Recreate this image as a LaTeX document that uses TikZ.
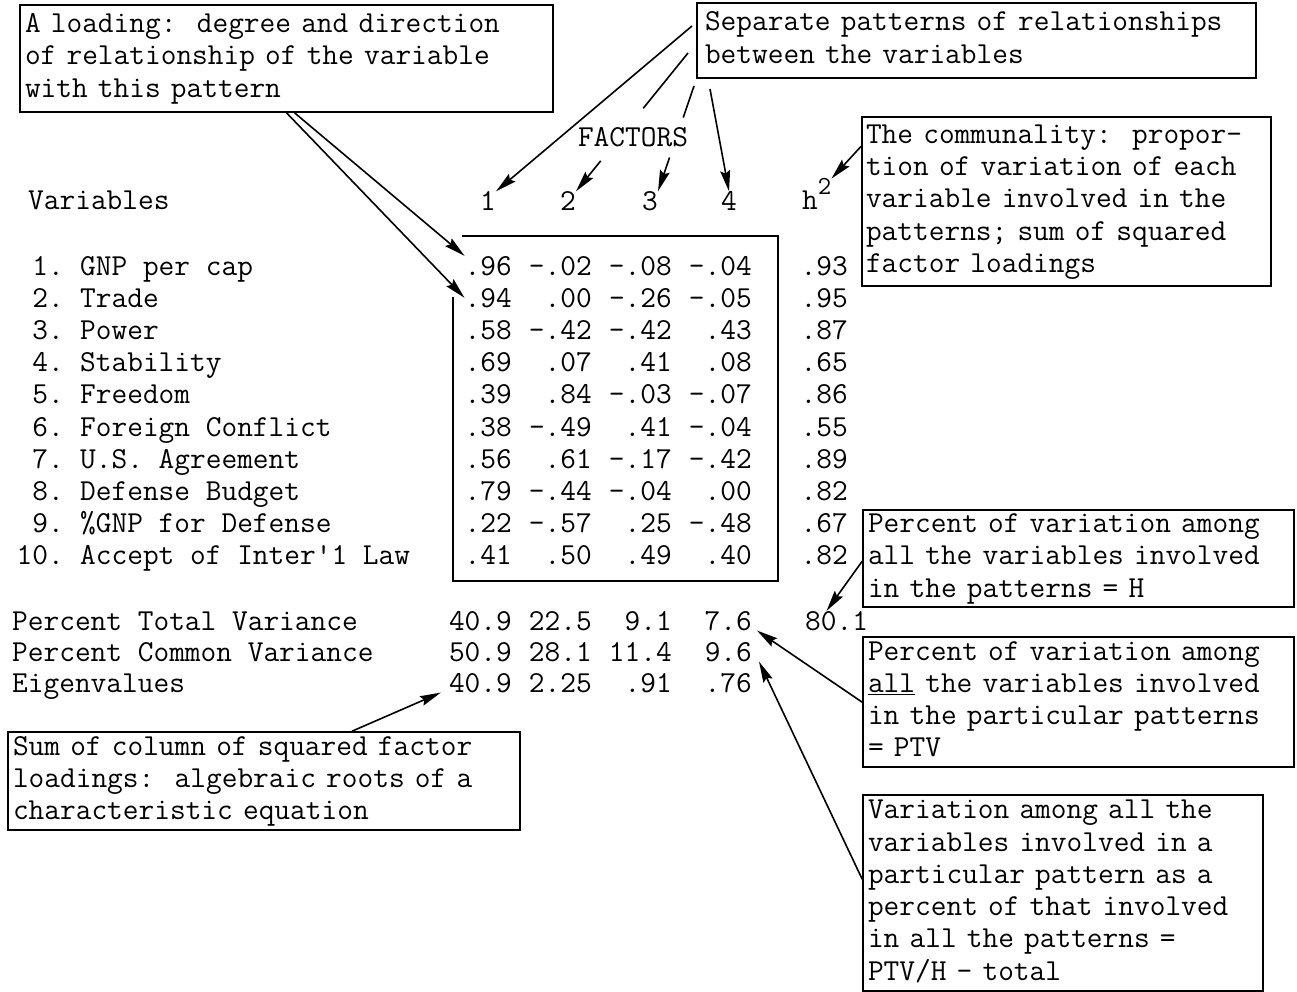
\documentclass[tikz,border=0pt]{standalone}
\usepackage{fontspec}
\usepackage{tikz}
\usetikzlibrary{arrows.meta,calc}
\frenchspacing

\tikzset{
  every node/.style={font=\ttfamily\fontsize{30.5}{32.3}\selectfont, inner sep=0pt},
  note/.style={draw, line width=1.6pt, align=left, inner xsep=5pt, inner ysep=0pt,
    execute at begin node=\strut, execute at end node=\strut},
  cell/.style={anchor=base east},
  lbl/.style={anchor=base west},
  lin/.style={line width=1.6pt},
  arr/.style={line width=1.6pt, -{Stealth[length=21pt,width=10pt,inset=3pt]}},
}

\begin{document}
\begin{tikzpicture}[x=1pt,y=1pt]
\fill [white] (0,0) rectangle (1297,-992);
\useasboundingbox (0,0) rectangle (1297,-992);
% notes
\node [note, text width=523pt, minimum height=107pt] (load) at (286.5,-58.5)
  {A loading:~~degree and direction\\of relationship of the variable\\with this pattern};
\node [note, inner xsep=8pt, text width=543pt, minimum height=75pt] (sep) at (976.5,-40.5)
  {Separate patterns of relationships\\between the variables};
\node [note, inner xsep=4pt, text width=401pt, minimum height=169pt] (comm) at (1066.5,-201.5)
  {The communality:~~propor-\\tion of variation of each\\variable involved in the\\patterns; sum of squared\\factor loadings};
\node [note, text width=421pt, minimum height=97pt] (pct) at (1078.5,-558.5)
  {Percent of variation among\\all the variables involved\\in the patterns = H};
\node [note, text width=421pt, minimum height=130pt] (ptv) at (1078.5,-702)
  {Percent of variation among\\\underline{all} the variables involved\\in the particular patterns\\= PTV};
\node [note, text width=390pt, minimum height=196pt] (var) at (1063,-893)
  {Variation among all the\\variables involved in a\\particular pattern as a\\percent of that involved\\in all the patterns =\\PTV/H - total};
\node [note, text width=502pt, minimum height=98pt] (eig) at (264,-781)
  {Sum of column of squared factor\\loadings:~~algebraic roots of a\\characteristic equation};
% headings
\node (fac) at (633,-137) {FACTORS};
\node [lbl] (vars) at (28,-210) {Variables};
\node (f1) at (488,-201) {1};
\node (f2) at (568,-201) {2};
\node (f3) at (650,-201) {3};
\node (f4) at (729,-201) {4};
\node [lbl] (hh) at (802,-210) {h\raisebox{15pt}{\fontsize{26}{26}\selectfont 2}};
% loadings
\foreach \lab/\a/\b/\c/\d/\h [count=\i] in {
  GNP per cap/.96/-.02/-.08/-.04/.93,
  Trade/.94/.00/-.26/-.05/.95,
  Power/.58/-.42/-.42/.43/.87,
  Stability/.69/.07/.41/.08/.65,
  Freedom/.39/.84/-.03/-.07/.86,
  Foreign Conflict/.38/-.49/.41/-.04/.55,
  U.S. Agreement/.56/.61/-.17/-.42/.89,
  Defense Budget/.79/-.44/-.04/.00/.82,
  \%GNP for Defense/.22/-.57/.25/-.48/.67,
  Accept of Inter'1 Law/.41/.50/.49/.40/.82}
{
  \pgfmathsetmacro\yy{-275-32.2*(\i-1)}
  \node [cell] (n\i) at (64,\yy) {\i.};
  \node [lbl] (r\i) at (80,\yy) {\lab};
  \node [cell] (c\i-1) at (512,\yy) {\a};
  \node [cell] (c\i-2) at (592,\yy) {\b};
  \node [cell] (c\i-3) at (672,\yy) {\c};
  \node [cell] (c\i-4) at (752,\yy) {\d};
  \node [cell] (c\i-5) at (848,\yy) {\h};
}
\draw [lin] (453,-297) -- (453,-581) -- (778,-581) -- (778,-236) -- (462,-236);
% totals
\node [lbl] (tv) at (12,-630) {Percent Total Variance};
\node [cell] (t1) at (512,-630) {40.9};
\node [cell] (t2) at (592,-630) {22.5};
\node [cell] (t3) at (672,-630) {9.1};
\node [cell] (t4) at (752,-630) {7.6};
\node [lbl] (t5) at (805,-630) {80.1};
\node [lbl] (cv) at (12,-661) {Percent Common Variance};
\node [cell] (p1) at (512,-661) {50.9};
\node [cell] (p2) at (592,-661) {28.1};
\node [cell] (p3) at (672,-661) {11.4};
\node [cell] (p4) at (752,-661) {9.6};
\node [lbl] (ev) at (12,-692) {Eigenvalues};
\node [cell] (e1) at (512,-692) {40.9};
\node [cell] (e2) at (592,-692) {2.25};
\node [cell] (e3) at (672,-692) {.91};
\node [cell] (e4) at (752,-692) {.76};
% arrows
\coordinate (s1) at (692,-26);
\coordinate (s2) at (688,-53);
\coordinate (s3) at (694,-86);
\coordinate (s4) at (710,-89);
\draw [arr] (s1) -- (f1.north east);
\draw [lin] (s2) -- ($(s2)!0.40!(f2.north east)$);
\draw [arr] ($(s2)!0.78!(f2.north east)$) -- (f2.north east);
\draw [lin] (s3) -- ($(s3)!0.30!(f3.north east)$);
\draw [arr] ($(s3)!0.68!(f3.north east)$) -- (f3.north east);
\draw [arr] (s4) -- (f4.north);
\draw [arr] ([xshift=8pt]load.south) -- (c1-1.north west);
\draw [arr] (load.south) -- (c2-1.west);
\draw [arr] ([yshift=-30pt]comm.north west) -- (hh.north east);
\draw [arr] ([yshift=-52pt]pct.north west) -- ([xshift=-10pt]t5.north);
\draw [arr] ([yshift=-66pt]ptv.north west) -- ([xshift=5pt]t4.south east);
\draw [arr] ([yshift=-85pt]var.north west) -- ([xshift=7pt]p4.south east);
\draw [arr] ([xshift=88pt]eig.north) -- ([xshift=-8pt]e1.south west);
\end{tikzpicture}
\end{document}
